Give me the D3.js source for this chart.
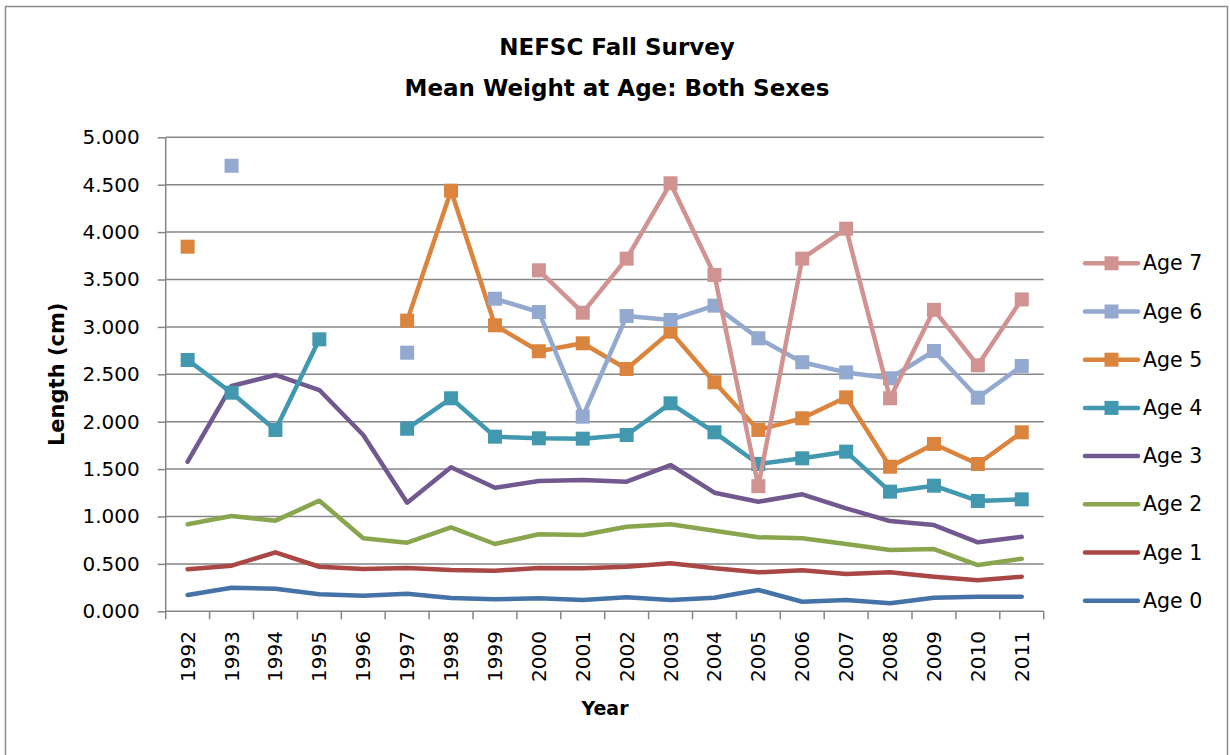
<!DOCTYPE html>
<html>
<head>
<meta charset="utf-8">
<script src="https://cdn.jsdelivr.net/npm/d3@7"></script>
<style>
  body { margin: 0; background: #fff; }
  svg { display: block; font-family: "DejaVu Sans", sans-serif; }
</style>
</head>
<body>
<svg id="chart"></svg>
<script>
// data, null = no value that year
const years = [1992,1993,1994,1995,1996,1997,1998,1999,2000,2001,2002,2003,2004,2005,2006,2007,2008,2009,2010,2011];
const age0 = [0.172,0.249,0.238,0.179,0.165,0.186,0.140,0.127,0.137,0.119,0.148,0.119,0.143,0.225,0.101,0.119,0.084,0.143,0.154,0.154];
const age1 = [0.443,0.481,0.622,0.470,0.446,0.457,0.436,0.428,0.457,0.453,0.470,0.506,0.453,0.411,0.432,0.393,0.411,0.365,0.327,0.365];
const age2 = [0.918,1.005,0.956,1.167,0.770,0.724,0.886,0.710,0.812,0.805,0.892,0.918,0.850,0.781,0.770,0.710,0.647,0.657,0.488,0.555];
const age3 = [1.578,2.377,2.493,2.334,1.860,1.146,1.519,1.304,1.374,1.385,1.367,1.543,1.251,1.156,1.234,1.086,0.952,0.910,0.728,0.787];
const age4 = [2.651,2.306,1.913,2.869,null,1.926,2.247,1.842,1.825,1.821,1.860,2.194,1.888,1.554,1.614,1.684,1.262,1.325,1.164,1.181];
const age5 = [3.846,null,null,null,null,3.066,4.437,3.017,2.743,2.827,2.556,2.950,2.416,1.913,2.036,2.257,1.525,1.765,1.554,1.888];
const age6 = [null,4.700,null,null,null,2.728,null,3.297,3.157,2.053,3.115,3.073,3.224,2.880,2.627,2.520,2.458,2.746,2.253,2.588];
const age7 = [null,null,null,null,null,null,null,null,3.597,3.150,3.720,4.515,3.548,1.320,3.720,4.036,2.247,3.180,2.595,3.290];
const yTicks = [0,0.5,1,1.5,2,2.5,3,3.5,4,4.5,5];

const series = [
  {name: "Age 0", values: age0, color: "#4572a7", marker: false},
  {name: "Age 1", values: age1, color: "#aa4643", marker: false},
  {name: "Age 2", values: age2, color: "#89a54e", marker: false},
  {name: "Age 3", values: age3, color: "#71588f", marker: false},
  {name: "Age 4", values: age4, color: "#4198af", marker: true},
  {name: "Age 5", values: age5, color: "#db843d", marker: true},
  {name: "Age 6", values: age6, color: "#93a9cf", marker: true},
  {name: "Age 7", values: age7, color: "#d19392", marker: true}
];

const W = 1230, H = 755;
const svg = d3.select("#chart").attr("width", W).attr("height", H);
const plot = {left: 165.7, right: 1043.7, top: 137.3, bottom: 611.3};
const axisColor = "#868686";

// chart frame
svg.append("rect")
   .attr("x", 5.5).attr("y", 6.5)
   .attr("width", 1222).attr("height", 780)
   .attr("fill", "none")
   .attr("stroke", "#8c8c8c")
   .attr("stroke-width", 1.5);

const x = d3.scaleBand().domain(years).range([plot.left, plot.right]).padding(0);
const y = d3.scaleLinear().domain([0, 5]).range([plot.bottom, plot.top]);
const cx = d => x(d) + x.bandwidth() / 2;

// title
svg.append("text")
   .attr("x", 617).attr("y", 55)
   .attr("text-anchor", "middle")
   .attr("font-size", "23px").attr("font-weight", "bold")
   .text("NEFSC Fall Survey");
svg.append("text")
   .attr("x", 617).attr("y", 96)
   .attr("text-anchor", "middle")
   .attr("font-size", "23px").attr("font-weight", "bold")
   .text("Mean Weight at Age: Both Sexes");

// horizontal gridlines
svg.append("g")
   .selectAll("line")
   .data(yTicks.filter(d => d > 0))
   .enter().append("line")
   .attr("x1", plot.left).attr("x2", plot.right)
   .attr("y1", d => y(d)).attr("y2", d => y(d))
   .attr("stroke", axisColor).attr("stroke-width", 1.5);

// y axis
const yAxis = svg.append("g")
   .attr("transform", `translate(${plot.left},0)`)
   .call(d3.axisLeft(y).tickValues(yTicks).tickFormat(d3.format(".3f")).tickSize(8).tickPadding(18));
yAxis.select(".domain").attr("stroke", axisColor).attr("stroke-width", 1.5)
     .attr("d", `M0,${plot.top}V${plot.bottom + 8}`);
yAxis.selectAll(".tick line").attr("stroke", axisColor).attr("stroke-width", 1.5);
yAxis.selectAll(".tick text").attr("font-size", "20px").attr("fill", "#000")
     .attr("font-family", "DejaVu Sans");

// x axis line and ticks at category boundaries
svg.append("line")
   .attr("x1", plot.left).attr("x2", plot.right)
   .attr("y1", plot.bottom).attr("y2", plot.bottom)
   .attr("stroke", axisColor).attr("stroke-width", 1.5);
svg.append("g")
   .selectAll("line")
   .data(years)
   .enter().append("line")
   .attr("x1", d => x(d) + x.bandwidth()).attr("x2", d => x(d) + x.bandwidth())
   .attr("y1", plot.bottom).attr("y2", plot.bottom + 8)
   .attr("stroke", axisColor).attr("stroke-width", 1.5);

svg.append("g")
   .selectAll("text")
   .data(years)
   .enter().append("text")
   .attr("transform", d => `translate(${cx(d)},${631}) rotate(-90)`)
   .attr("text-anchor", "end")
   .attr("dy", "0.35em")
   .attr("font-size", "20px")
   .text(d => d);

// axis titles
svg.append("text")
   .attr("x", 605).attr("y", 715)
   .attr("text-anchor", "middle")
   .attr("font-size", "19px").attr("font-weight", "bold")
   .text("Year");
svg.append("text")
   .attr("transform", `translate(64,${(plot.top + plot.bottom) / 2}) rotate(-90)`)
   .attr("text-anchor", "middle")
   .attr("font-size", "21px").attr("font-weight", "bold")
   .text("Length (cm)");

// series
const line = d3.line()
   .defined(d => d.v !== null)
   .x(d => cx(d.year))
   .y(d => y(d.v));

const ms = 14;
series.forEach(s => {
  const pts = years.map((yr, i) => ({year: yr, v: s.values[i]}));
  svg.append("path")
     .datum(pts)
     .attr("d", line)
     .attr("fill", "none")
     .attr("stroke", s.color)
     .attr("stroke-width", 4.5)
     .attr("stroke-linejoin", "round")
     .attr("stroke-linecap", "round");
  if (s.marker) {
    svg.append("g")
       .selectAll("rect")
       .data(pts.filter(d => d.v !== null))
       .enter().append("rect")
       .attr("x", d => cx(d.year) - ms / 2)
       .attr("y", d => y(d.v) - ms / 2)
       .attr("width", ms).attr("height", ms)
       .attr("fill", s.color);
  }
});

// legend, top entry is Age 7
const legend = svg.append("g");
const legItems = series.slice().reverse();
legItems.forEach((s, i) => {
  const ly = 263.3 + i * 48.2;
  const g = legend.append("g");
  g.append("line")
   .attr("x1", 1085).attr("x2", 1138)
   .attr("y1", ly).attr("y2", ly)
   .attr("stroke", s.color).attr("stroke-width", 4.5)
   .attr("stroke-linecap", "round");
  if (s.marker) {
    g.append("rect")
     .attr("x", 1111.5 - ms / 2).attr("y", ly - ms / 2)
     .attr("width", ms).attr("height", ms)
     .attr("fill", s.color);
  }
  g.append("text")
   .attr("x", 1143).attr("y", ly)
   .attr("dy", "0.35em")
   .attr("font-size", "20.5px")
   .text(s.name);
});
</script>
</body>
</html>
